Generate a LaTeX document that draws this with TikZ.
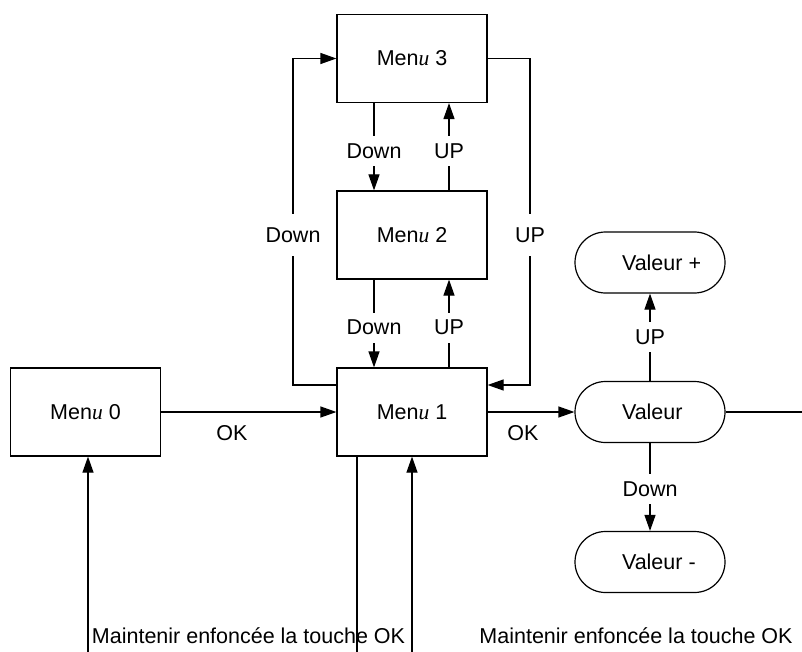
\documentclass[tikz,border=0pt]{standalone}
\usepackage{fontspec}
\setmainfont{Liberation Sans}
\newfontfamily\seriffam{Liberation Serif}
\usetikzlibrary{arrows.meta,shapes.misc}
\newcommand{\menuname}[1]{Men{\seriffam\itshape u} #1}
\begin{document}
\begin{tikzpicture}[x=1pt,y=-1pt,
  font=\fontsize{21.5}{25}\selectfont,
  line width=1.2pt,
  box/.style={draw, minimum width=150pt, minimum height=88pt, inner sep=0pt},
  pill/.style={draw, rounded rectangle, minimum width=150pt, minimum height=61pt, inner sep=0pt},
  arr/.style={-{Triangle[length=16pt,width=11pt]}},
  lbl/.style={fill=white, inner xsep=2pt, inner ysep=7.5pt},
  looplbl/.style={fill=white, inner xsep=2pt, inner ysep=13pt},
  txt/.style={inner sep=0pt}]
\useasboundingbox (0,0) rectangle (802,652);

% boxes
\node[box] (m0) at (85.5,412) {\menuname{0}};
\node[box] (m1) at (412,412) {\menuname{1}};
\node[box] (m2) at (412,235) {\menuname{2}};
\node[box] (m3) at (412,58.5) {\menuname{3}};

\node[pill] (v)  at (650,412) {\makebox[56pt][l]{Valeur}};
\node[pill] (vp) at (650,262.5) {\makebox[56pt][l]{Valeur +}};
\node[pill] (vm) at (650,562) {\makebox[56pt][l]{Valeur -}};

% Menu 3 <-> Menu 2
\draw[arr] ([xshift=-38pt]m3.south) -- ([xshift=-38pt]m2.north)
  node[midway, lbl, yshift=-4pt] {Down};
\draw[arr] ([xshift=37pt]m2.north) -- ([xshift=37pt]m3.south)
  node[midway, lbl, yshift=-4pt] {UP};

% Menu 2 <-> Menu 1
\draw[arr] ([xshift=-38pt]m2.south) -- ([xshift=-38pt]m1.north)
  node[midway, lbl, yshift=-4pt] {Down};
\draw[arr] ([xshift=37pt]m1.north) -- ([xshift=37pt]m2.south)
  node[midway, lbl, yshift=-4pt] {UP};

% loops
\coordinate (ll) at (293,385);
\coordinate (rl) at (530,385);
\draw[arr] ([yshift=27pt]m1.west) -- (ll) -- (ll |- m3.west) -- (m3.west);
\draw[arr] (m3.east) -- (rl |- m3.east) -- (rl) -- ([yshift=27pt]m1.east);
\node[looplbl] (dl) at (293,235) {Down};
\node[looplbl] (ul) at (530,235) {UP};

% OK transitions
\draw[arr] (m0.east) -- (m1.west);
\node[txt] (ok1) at (232,433) {OK};
\draw[arr] (m1.east) -- (v.west);
\node[txt] (ok2) at (523,433) {OK};

% Valeur
\draw[arr] (v.north) -- (vp.south) node[midway, lbl] {UP};
\draw[arr] (v.south) -- (vm.north) node[midway, lbl, yshift=-2pt] {Down};
\coordinate (vr) at (802,412);
\draw (v.east) -- (vr);

% bottom
\coordinate (b0) at (88,652);
\coordinate (b1) at (357,652);
\coordinate (b2) at (412,652);
\draw[arr] (b0) -- (m0.south -| b0);
\draw (m1.south -| b1) -- (b1);
\draw[arr] (b2) -- (m1.south);

\node[txt] (t1) at (248.5,636) {Maintenir enfoncée la touche OK};
\node[txt] (t2) at (636,636) {Maintenir enfoncée la touche OK};
\end{tikzpicture}
\end{document}
